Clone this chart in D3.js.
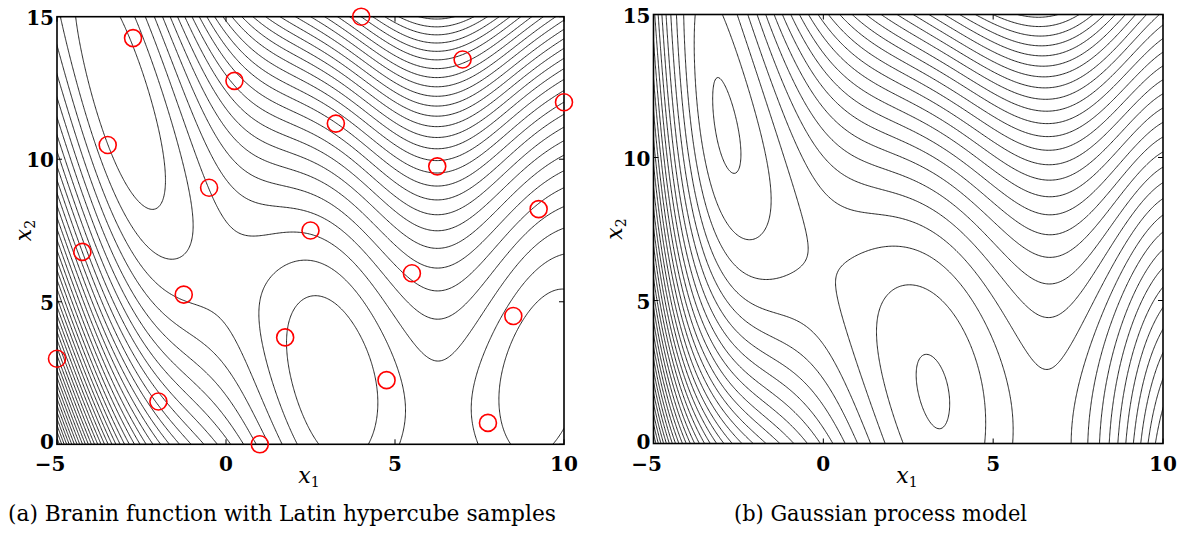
<!DOCTYPE html>
<html><head><meta charset="utf-8">
<script src="https://cdn.jsdelivr.net/npm/d3@7"></script>
<style>
body{margin:0;background:#fff}
svg{display:block}
text{font-family:"DejaVu Serif",serif;fill:#000}
</style>
</head><body>
<svg id="chart" width="1189" height="533"></svg>
<script>
// ---------------- data ----------------
const sampleX1 = [-5, -4.25, -3.5, -2.75, -2, -1.25, -0.5, 0.25, 1, 1.75, 2.5, 3.25, 4, 4.75, 5.5, 6.25, 7, 7.75, 8.5, 9.25, 10];
const sampleX2 = [3, 6.75, 10.5, 14.25, 1.5, 5.25, 9, 12.75, 0, 3.75, 7.5, 11.25, 15, 2.25, 6, 9.75, 13.5, 0.75, 4.5, 8.25, 12];
const xDomain = [-5, 10];
const yDomain = [0, 15];
const xTicks = [-5, 0, 5, 10];
const xTickLabels = ["\u22125", "0", "5", "10"];
const yTicks = [0, 5, 10, 15];
const yTickLabels = ["0", "5", "10", "15"];
const captions = ["(a) Branin function with Latin hypercube samples", "(b) Gaussian process model"];
// Branin function parameters (the plotted function of panel a)
const braninA = 1, braninB = 5.1 / (4 * Math.PI * Math.PI), braninC = 5 / Math.PI,
      braninR = 6, braninS = 10, braninT = 1 / (8 * Math.PI);
const levelCount = 40;            // number of contour levels (between field min and max)
const gpTheta = [0.25, 0.014];    // Gaussian correlation parameters (standardised inputs)

// ---------------- helpers ----------------
function branin(x1, x2) {
  const t = x2 - braninB * x1 * x1 + braninC * x1 - braninR;
  return braninA * t * t + braninS * (1 - braninT) * Math.cos(x1) + braninS;
}
const sampleY = sampleX1.map((x, i) => branin(x, sampleX2[i]));

function chol(A, n) {
  const L = new Float64Array(n * n);
  for (let i = 0; i < n; i++) for (let j = 0; j <= i; j++) {
    let s = A[i * n + j];
    for (let k = 0; k < j; k++) s -= L[i * n + k] * L[j * n + k];
    if (i === j) { if (s <= 0) return null; L[i * n + i] = Math.sqrt(s); }
    else L[i * n + j] = s / L[j * n + j];
  }
  return L;
}
function fwd(L, n, b) { const x = new Float64Array(n); for (let i = 0; i < n; i++) { let s = b[i]; for (let k = 0; k < i; k++) s -= L[i * n + k] * x[k]; x[i] = s / L[i * n + i]; } return x; }
function bwd(L, n, b) { const x = new Float64Array(n); for (let i = n - 1; i >= 0; i--) { let s = b[i]; for (let k = i + 1; k < n; k++) s -= L[k * n + i] * x[k]; x[i] = s / L[i * n + i]; } return x; }

// ordinary kriging (constant mean, Gaussian correlation)
function fitKriging(X1, X2, Y, theta) {
  const m = Y.length;
  const m1 = d3.mean(X1), s1 = d3.deviation(X1), m2 = d3.mean(X2), s2 = d3.deviation(X2);
  const mY = d3.mean(Y), sY = d3.deviation(Y);
  const S = X1.map((x, i) => [(x - m1) / s1, (X2[i] - m2) / s2]);
  const Yn = Y.map(v => (v - mY) / sY);
  const R = new Float64Array(m * m);
  for (let i = 0; i < m; i++) for (let j = 0; j < m; j++) {
    const a = S[i][0] - S[j][0], b = S[i][1] - S[j][1];
    R[i * m + j] = Math.exp(-theta[0] * a * a - theta[1] * b * b) + (i === j ? 1e-10 : 0);
  }
  const L = chol(R, m);
  const Ft = fwd(L, m, new Array(m).fill(1)), Yt = fwd(L, m, Yn);
  const beta = d3.sum(Ft, (v, i) => v * Yt[i]) / d3.sum(Ft, v => v * v);
  const rho = Yt.map((v, i) => v - beta * Ft[i]);
  const gamma = bwd(L, m, rho);
  return function (x1, x2) {
    const u0 = (x1 - m1) / s1, u1 = (x2 - m2) / s2;
    let y = beta;
    for (let i = 0; i < m; i++) { const a = u0 - S[i][0], b = u1 - S[i][1]; y += Math.exp(-theta[0] * a * a - theta[1] * b * b) * gamma[i]; }
    return mY + sY * y;
  };
}
const gpModel = fitKriging(sampleX1, sampleX2, sampleY, gpTheta);

// ---------------- drawing ----------------
const svg = d3.select("#chart");
const panels = [
  { left: 57, right: 564, top: 16.7, bottom: 444.3, fn: branin, samples: true, caption: captions[0], capX: 8, capW: 548, xlabX: 309, ylabX: 25 },
  { left: 653.5, right: 1163, top: 14.5, bottom: 443.5, fn: gpModel, samples: false, caption: captions[1], capX: 734, capW: 293, xlabX: 907, ylabX: 616 }
];

panels.forEach((P, pi) => {
  const x = d3.scaleLinear().domain(xDomain).range([P.left, P.right]);
  const y = d3.scaleLinear().domain(yDomain).range([P.bottom, P.top]);
  const g = svg.append("g");
  const clipId = "clip" + pi;
  svg.append("clipPath").attr("id", clipId).append("rect")
    .attr("x", P.left).attr("y", P.top).attr("width", P.right - P.left).attr("height", P.bottom - P.top);

  const N = 361, pad = 3;
  const hx = (xDomain[1] - xDomain[0]) / (N - 1), hy = (yDomain[1] - yDomain[0]) / (N - 1);
  const nx = N + 2 * pad, ny = N + 2 * pad;
  const gx0 = xDomain[0] - pad * hx, gyTop = yDomain[1] + pad * hy;
  const vals = new Float64Array(nx * ny);
  let vmin = Infinity, vmax = -Infinity;
  for (let j = 0; j < ny; j++) for (let i = 0; i < nx; i++) {
    const v = P.fn(gx0 + i * hx, gyTop - j * hy);
    vals[j * nx + i] = v;
    if (i >= pad && i < pad + N && j >= pad && j < pad + N) { vmin = Math.min(vmin, v); vmax = Math.max(vmax, v); }
  }
  const levels = d3.range(1, levelCount + 1).map(k => vmin + k * (vmax - vmin) / (levelCount + 1));
  const cont = d3.contours().size([nx, ny]).smooth(true).thresholds(levels)(vals);
  const proj = d3.geoTransform({ point(cx, cy) { this.stream.point(x(gx0 + (cx - 0.5) * hx), y(gyTop - (cy - 0.5) * hy)); } });
  const path = d3.geoPath(proj);
  g.append("g").attr("clip-path", `url(#${clipId})`)
    .selectAll("path").data(cont).join("path")
    .attr("d", path).attr("fill", "none").attr("stroke", "#000").attr("stroke-width", 0.85);

  g.append("rect").attr("x", P.left).attr("y", P.top).attr("width", P.right - P.left).attr("height", P.bottom - P.top)
    .attr("fill", "none").attr("stroke", "#000").attr("stroke-width", 1.6);
  const tl = 5;
  xTicks.forEach(t => {
    g.append("line").attr("x1", x(t)).attr("x2", x(t)).attr("y1", P.bottom).attr("y2", P.bottom - tl).attr("stroke", "#000").attr("stroke-width", 1);
    g.append("line").attr("x1", x(t)).attr("x2", x(t)).attr("y1", P.top).attr("y2", P.top + tl).attr("stroke", "#000").attr("stroke-width", 1);
  });
  yTicks.forEach(t => {
    g.append("line").attr("x1", P.left).attr("x2", P.left + tl).attr("y1", y(t)).attr("y2", y(t)).attr("stroke", "#000").attr("stroke-width", 1);
    g.append("line").attr("x1", P.right).attr("x2", P.right - tl).attr("y1", y(t)).attr("y2", y(t)).attr("stroke", "#000").attr("stroke-width", 1);
  });
  xTicks.forEach((t, i) => {
    g.append("text").attr("x", x(t) + (t < 0 ? -7 : 0)).attr("y", 471).attr("text-anchor", "middle")
      .attr("font-size", 20).attr("font-weight", "bold").text(xTickLabels[i]);
  });
  yTicks.forEach((t, i) => {
    g.append("text").attr("x", P.left - 3).attr("y", y(t) + (t === 0 ? 5 : 8)).attr("text-anchor", "end")
      .attr("font-size", 20).attr("font-weight", "bold").text(yTickLabels[i]);
  });
  const xl = g.append("text").attr("x", P.xlabX).attr("y", 483).attr("text-anchor", "middle").attr("font-size", 22);
  xl.append("tspan").attr("font-style", "italic").text("x");
  xl.append("tspan").attr("font-size", 14).attr("dy", 4).text("1");
  const yl = g.append("text").attr("transform", `translate(${P.ylabX + 6},${(P.top + P.bottom) / 2}) rotate(-90)`)
    .attr("text-anchor", "middle").attr("font-size", 22);
  yl.append("tspan").attr("font-style", "italic").text("x");
  yl.append("tspan").attr("font-size", 14).attr("dy", 4).text("2");

  if (P.samples) {
    g.append("g").selectAll("circle").data(sampleX1.map((v, i) => [v, sampleX2[i]])).join("circle")
      .attr("cx", d => x(d[0])).attr("cy", d => y(d[1])).attr("r", 8.5)
      .attr("fill", "none").attr("stroke", "#ff0000").attr("stroke-width", 1.6);
  }
  g.append("text").attr("x", P.capX).attr("y", 521).attr("font-size", 23)
    .attr("textLength", P.capW).attr("lengthAdjust", "spacingAndGlyphs").text(P.caption);
});
</script>
</body></html>
